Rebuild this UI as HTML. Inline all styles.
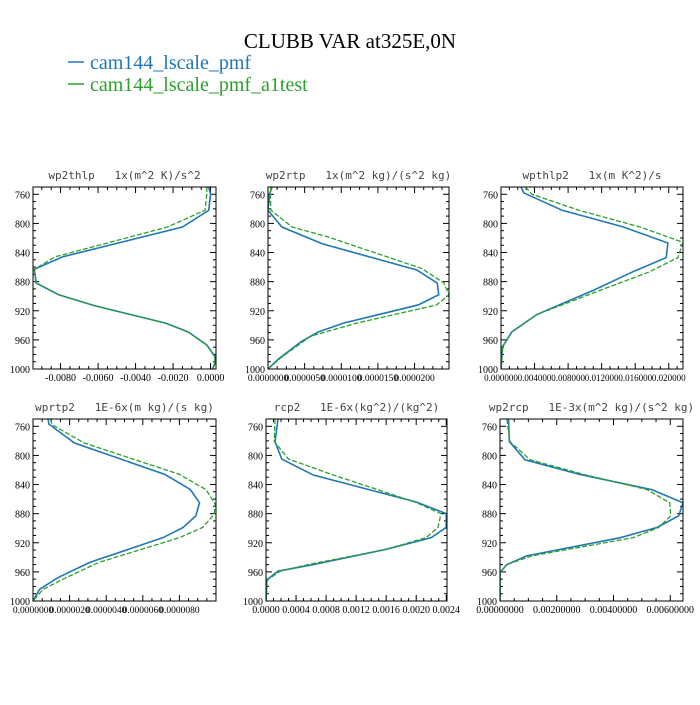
<!DOCTYPE html>
<html><head><meta charset="utf-8"><style>
body{margin:0;background:#fff;width:700px;height:700px;overflow:hidden}
svg text{font-family:"Liberation Serif",serif}
</style></head><body>
<svg id="c" width="700" height="700" xmlns="http://www.w3.org/2000/svg">
<text x="350" y="48" text-anchor="middle" font-size="21" fill="#000">CLUBB VAR at325E,0N</text>
<g>
<line x1="68" y1="62" x2="84" y2="62" stroke="#1f77b4" stroke-width="1.5"/>
<text x="90" y="69" font-size="20" fill="#1f77b4">cam144_lscale_pmf</text>
<line x1="68" y1="84" x2="84" y2="84" stroke="#2ca02c" stroke-width="1.5"/>
<text x="90" y="91" font-size="20" fill="#2ca02c">cam144_lscale_pmf_a1test</text>
</g>
</svg>
<script>
// shared y ticks
const yTicks = [760, 800, 840, 880, 920, 960, 1000];
// panel 1 wp2thlp
const p1Title = "wp2thlp   1x(m^2 K)/s^2";
const p1Ticks = [-0.008, -0.006, -0.004, -0.002, 0];
const p1Labels = ["-0.0080", "-0.0060", "-0.0040", "-0.0020", "0.0000"];
const p1PresA = [750, 760, 782, 805, 846, 863, 882, 898, 913, 937, 949, 967, 983, 992, 1000];
const p1A = [-0.0001, 0, -0.0001, -0.0015, -0.0079, -0.0094, -0.0093, -0.0081, -0.0062, -0.0024, -0.0012, -0.0002, 0.00024, 0.00024, 0.0001];
const p1PresB = [750, 760, 782, 805, 846, 863, 882, 898, 913, 937, 949, 967, 983, 992, 1000];
const p1B = [-0.0002, -0.0002, -0.0003, -0.0023, -0.0083, -0.0094, -0.0093, -0.0081, -0.0062, -0.0024, -0.0012, -0.0002, 0.00022, 0.00022, 0.0001];
// panel 2 wp2rtp (units 1e-6)
const p2Title = "wp2rtp   1x(m^2 kg)/(s^2 kg)";
const p2Ticks = [0, 5, 10, 15, 20];
const p2Labels = ["0.0000000", "0.0000050", "0.0000100", "0.0000150", "0.0000200"];
const p2PresA = [750, 760, 782, 805, 828, 864, 882, 898, 912, 937, 949, 962, 986, 1000];
const p2A = [0.55, 0.2, 0, 1.9, 7.4, 20.3, 23.1, 23.3, 20.5, 10.3, 6.9, 4.6, 1.45, 0];
const p2PresB = [750, 760, 782, 805, 818, 862, 882, 898, 912, 937, 955, 985, 1000];
const p2B = [0.4, 0.3, 0.4, 3.3, 8, 21, 24, 24.7, 23, 12.1, 5.8, 1.7, 0];
// panel 3 wpthlp2
const p3Title = "wpthlp2   1x(m K^2)/s";
const p3Ticks = [0, 0.004, 0.008, 0.012, 0.016, 0.02];
const p3Labels = ["0.000000", "0.004000", "0.008000", "0.012000", "0.016000", "0.020000"];
const p3PresA = [750, 758, 782, 805, 827, 847, 866, 892, 925, 949, 969, 1000];
const p3A = [0.0024, 0.0027, 0.0073, 0.0146, 0.0199, 0.0197, 0.0158, 0.011, 0.0043, 0.0013, 0.0002, 0];
const p3PresB = [750, 760, 782, 805, 826, 847, 867, 892, 925, 949, 969, 1000];
const p3B = [0.0029, 0.0037, 0.0093, 0.0166, 0.0217, 0.0211, 0.0176, 0.0118, 0.0043, 0.0013, 0.0002, 0];
// panel 4 wprtp2 (units 1e-6)
const p4Title = "wprtp2   1E-6x(m kg)/(s kg)";
const p4Ticks = [0, 2, 4, 6, 8];
const p4Labels = ["0.0000000", "0.0000020", "0.0000040", "0.0000060", "0.0000080"];
const p4PresA = [750, 757, 783, 826, 847, 865, 883, 899, 913, 947, 968, 984, 1000];
const p4A = [0.82, 0.87, 2.27, 7.2, 8.6, 9.1, 8.9, 8.2, 7.1, 3.1, 1.36, 0.36, 0];
const p4PresB = [750, 758, 783, 826, 847, 867, 881, 899, 913, 947, 968, 984, 1000];
const p4B = [0.95, 1.05, 2.8, 8.0, 9.45, 9.96, 9.9, 9.27, 8.0, 3.6, 1.8, 0.55, 0];
// panel 5 rcp2
const p5Title = "rcp2   1E-6x(kg^2)/(kg^2)";
const p5Ticks = [0, 0.0004, 0.0008, 0.0012, 0.0016, 0.002, 0.0024];
const p5Labels = ["0.0000", "0.0004", "0.0008", "0.0012", "0.0016", "0.0020", "0.0024"];
const p5PresA = [750, 781, 805, 827, 864, 880, 899, 913, 929, 950, 959, 971, 1000];
const p5A = [0.00016, 0.00012, 0.00021, 0.00063, 0.002, 0.0024, 0.0024, 0.0022, 0.0016, 0.00063, 0.00016, 0.00001, 0];
const p5B = [0.00012, 0.00011, 0.0003, 0.0009, 0.00198, 0.00233, 0.00229, 0.00213, 0.0016, 0.00056, 0.00019, 0.00002, 0];
// panel 6 wp2rcp
const p6Title = "wp2rcp   1E-3x(m^2 kg)/(s^2 kg)";
const p6Ticks = [0, 0.002, 0.004, 0.006];
const p6Labels = ["0.00000000", "0.00200000", "0.00400000", "0.00600000"];
const p6PresA = [750, 781, 806, 826, 847, 865, 883, 899, 913, 938, 950, 961, 1000];
const p6A = [0.0003, 0.00033, 0.00088, 0.0028, 0.00535, 0.00645, 0.0063, 0.00553, 0.00424, 0.00094, 0.00024, 0, 0];
const p6B = [0.00024, 0.00035, 0.00106, 0.00294, 0.00518, 0.00598, 0.00602, 0.00559, 0.0047, 0.00112, 0.00024, 0, 0];

const NS = "http://www.w3.org/2000/svg";
const svg = document.getElementById('c');
function mk(tag, attrs, parent) {
  const e = document.createElementNS(NS, tag);
  for (const k in attrs) e.setAttribute(k, attrs[k]);
  parent.appendChild(e);
  return e;
}
function panel(name, box, xmin, xmax, title, ticks, labels, presA, A, presB, B, fs) {
  const [x0, x1, y0, y1] = box;
  const g = mk('g', {}, svg);
  
  
  const sx = v => x0 + (v - xmin) / (xmax - xmin) * (x1 - x0);
  const sy = p => y0 + (p - 750) / 250 * (y1 - y0);
  const t = mk('text', {x: (x0 + x1) / 2, y: y0 - 8, 'text-anchor': 'middle', 'font-size': 11, fill: '#444', style: 'font-family:"DejaVu Sans Mono",monospace;white-space:pre'}, g);
  t.textContent = title;
  
  
  for (let p = 760; p <= 1000; p += 10) {
    const major = (p - 760) % 40 === 0;
    const L = major ? 6 : 3;
    mk('line', {x1: x0, x2: x0 + L, y1: sy(p), y2: sy(p), stroke: '#000', 'stroke-width': 1}, g);
    mk('line', {x1: x1, x2: x1 - L, y1: sy(p), y2: sy(p), stroke: '#000', 'stroke-width': 1}, g);
  }
  yTicks.forEach(p => {
    const tx = mk('text', {x: x0 - 3, y: sy(p) + 4, 'text-anchor': 'end', 'font-size': 10, fill: '#000'}, g);
    tx.textContent = p;
    
    
  });
  const step = ticks[1] - ticks[0];
  for (let v = ticks[0] - 2 * step; v <= xmax + 1e-12; v += step / 4) {
    if (v < xmin - 1e-12) continue;
    const major = Math.abs(((v - ticks[0]) / step) - Math.round((v - ticks[0]) / step)) < 1e-6;
    const L = major ? 6 : 3;
    mk('line', {x1: sx(v), x2: sx(v), y1: y1, y2: y1 - L, stroke: '#000', 'stroke-width': 1}, g);
    mk('line', {x1: sx(v), x2: sx(v), y1: y0, y2: y0 + L, stroke: '#000', 'stroke-width': 1}, g);
  }
  ticks.forEach((v, i) => {
    const tx = mk('text', {x: sx(v), y: y1 + 12, 'text-anchor': 'middle', 'font-size': fs, fill: '#000'}, g);
    tx.textContent = labels[i];
    
    
  });
  const clipId = name + '-clip';
  const cp = mk('clipPath', {id: clipId}, g);
  mk('rect', {x: x0, y: y0, width: x1 - x0, height: y1 - y0}, cp);
  const la = mk('polyline', {points: A.map((v, i) => sx(v) + ',' + sy(presA[i])).join(' '), fill: 'none', stroke: '#1f77b4', 'stroke-width': 1.6, 'clip-path': 'url(#' + clipId + ')'}, g);
  
  
  const lb = mk('polyline', {points: B.map((v, i) => sx(v) + ',' + sy(presB[i])).join(' '), fill: 'none', stroke: '#2ca02c', 'stroke-width': 1.3, 'stroke-dasharray': '5,2', 'clip-path': 'url(#' + clipId + ')'}, g);
  
  
  const fr = mk('rect', {x: x0, y: y0, width: x1 - x0, height: y1 - y0, fill: 'none', stroke: '#000', 'stroke-width': 1}, g);
  
  
}
panel('wp2thlp', [33, 216, 187, 369], -0.00947, 0.00029, p1Title, p1Ticks, p1Labels, p1PresA, p1A, p1PresB, p1B, 10);
panel('wp2rtp', [268, 449, 187, 369], 0, 24.7, p2Title, p2Ticks, p2Labels, p2PresA, p2A, p2PresB, p2B, 9.5);
panel('wpthlp2', [501, 683, 187, 369], 0, 0.0217, p3Title, p3Ticks, p3Labels, p3PresA, p3A, p3PresB, p3B, 9);
panel('wprtp2', [33, 216, 419, 601], 0, 10.0, p4Title, p4Ticks, p4Labels, p4PresA, p4A, p4PresB, p4B, 9.5);
panel('rcp2', [266, 447, 419, 601], 0, 0.00241, p5Title, p5Ticks, p5Labels, p5PresA, p5A, p5PresA, p5B, 10);
panel('wp2rcp', [500, 683, 419, 601], 0, 0.00645, p6Title, p6Ticks, p6Labels, p6PresA, p6A, p6PresA, p6B, 10);
</script>
</body></html>
